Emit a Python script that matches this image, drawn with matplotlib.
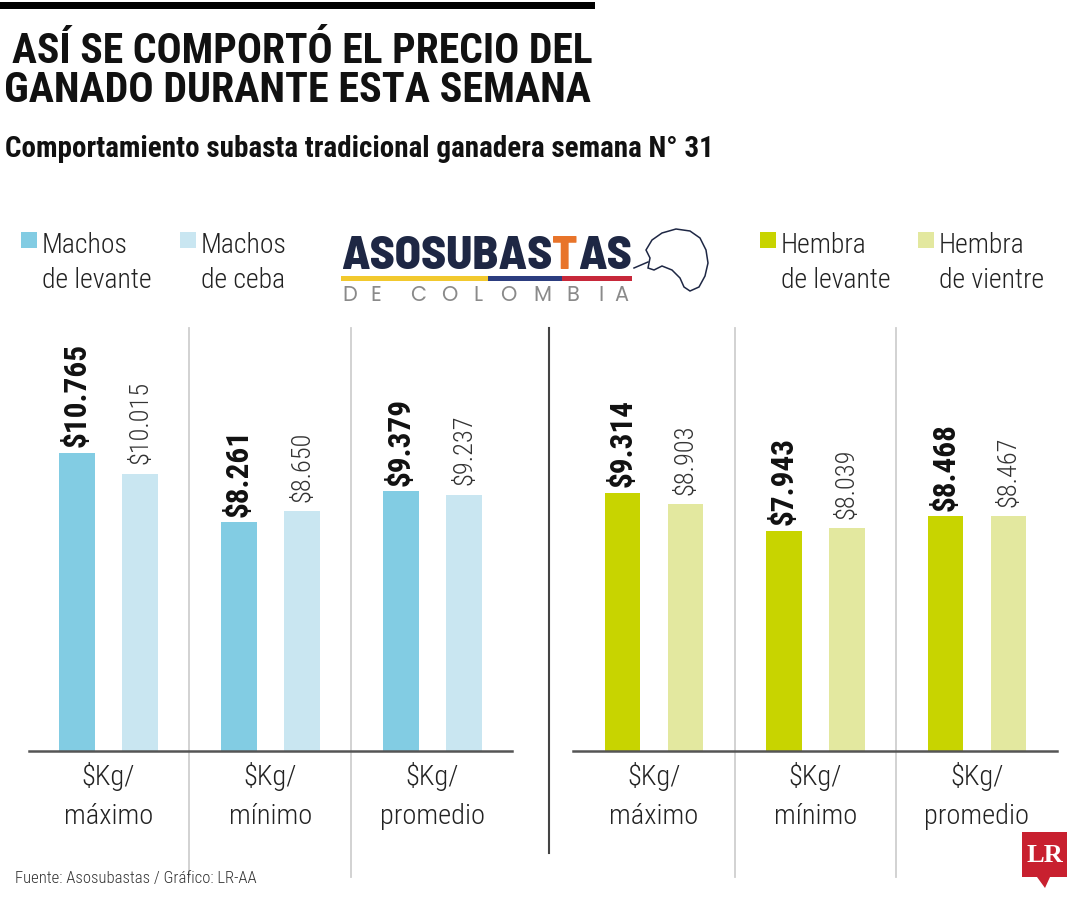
import matplotlib
matplotlib.use('Agg')
import matplotlib.pyplot as plt
from matplotlib.patches import Rectangle, Polygon
from matplotlib.lines import Line2D

plt.rcParams['text.parse_math'] = False
COND = ['Roboto Condensed', 'Asap Condensed', 'DejaVu Sans']
LOGO = ['Barlow Semi Condensed', 'Roboto Condensed', 'DejaVu Sans']
plt.rcParams['font.family'] = COND

# datos (pesos por kg)
categorias = ['$Kg/\nmáximo', '$Kg/\nmínimo', '$Kg/\npromedio']
machos_levante = [10765, 8261, 9379]
machos_ceba = [10015, 8650, 9237]
hembra_levante = [9314, 7943, 8468]
hembra_vientre = [8903, 8039, 8467]
series_izq = ['Machos\nde levante', 'Machos\nde ceba']
series_der = ['Hembra\nde levante', 'Hembra\nde vientre']

AZUL = '#82CCE3'
AZUL_CLARO = '#C9E6F1'
VERDE = '#C8D400'
VERDE_CLARO = '#E3E89F'
NAVY = '#1E2744'

W, H = 1080, 900
fig = plt.figure(figsize=(10.8, 9), dpi=100)
r = fig.canvas.get_renderer()


def fx(x):
    return x / W


def fy(y):
    return 1 - y / H


def pesos(v):
    return '$' + f'{v:,}'.replace(',', '.')


BASE = 751
TOP = 328
PX_POR_PESO = 27.7 / 1000


def panel(x0, x1, c0, paso, serie_a, serie_b, col_a, col_b):
    ax = fig.add_axes([fx(x0), fy(BASE), (x1 - x0) / W, (BASE - TOP) / H])
    xs = list(range(len(categorias)))
    off = 0.195
    ax.bar([x - off for x in xs], serie_a, width=0.218, color=col_a)
    ax.bar([x + off for x in xs], serie_b, width=0.218, color=col_b)
    for x, v in zip(xs, serie_a):
        ax.annotate(pesos(v), (x - off, v), xytext=(0, 4), textcoords='offset points',
                    rotation=90, ha='center', va='bottom', fontsize=22.5,
                    fontweight='bold', color='#111111')
    for x, v in zip(xs, serie_b):
        ax.annotate(pesos(v), (x + off, v), xytext=(0, 7), textcoords='offset points',
                    rotation=90, ha='center', va='bottom', fontsize=19,
                    fontweight='light', color='#333333')
    ax.set_xlim((x0 - c0) / paso, (x1 - c0) / paso)
    ax.set_ylim(0, (BASE - TOP) / PX_POR_PESO)
    for s in (0.5, 1.5):
        ax.axvline(s, ymin=-(877 - BASE) / (BASE - TOP), ymax=1, color='#CFCFCF',
                   lw=1.3, clip_on=False, zorder=0)
    for sp in ('top', 'left', 'right'):
        ax.spines[sp].set_visible(False)
    ax.spines['bottom'].set_color('#555555')
    ax.spines['bottom'].set_linewidth(1.8)
    ax.set_xticks(xs, categorias, fontsize=20.5, fontweight='light', color='#222222',
                  linespacing=1.55)
    ax.tick_params(axis='x', length=0, pad=8)
    ax.set_yticks([])
    ax.patch.set_alpha(0)
    return ax


panel(29, 512, 108.5, 162, machos_levante, machos_ceba, AZUL, AZUL_CLARO)
panel(573, 1057, 654, 161.5, hembra_levante, hembra_vientre, VERDE, VERDE_CLARO)

# linea divisoria central
fig.add_artist(Line2D([fx(549), fx(549)], [fy(328), fy(853)], color='#444444', lw=1.5))

# barra superior y titulos
fig.add_artist(Rectangle((0, fy(9)), fx(595), 7 / H, color='black', lw=0))
fig.text(fx(12), fy(63), 'ASÍ SE COMPORTÓ EL PRECIO DEL', fontsize=30,
         fontweight='bold', color='#111111', va='baseline')
fig.text(fx(4), fy(102), 'GANADO DURANTE ESTA SEMANA', fontsize=30.3,
         fontweight='bold', color='#111111', va='baseline')
fig.text(fx(5), fy(157), 'Comportamiento subasta tradicional ganadera semana N° 31',
         fontsize=21, fontweight='bold', color='#111111', va='baseline')

# leyendas
leyendas = [(21, series_izq[0], AZUL), (180, series_izq[1], AZUL_CLARO),
            (760, series_der[0], VERDE), (918, series_der[1], VERDE_CLARO)]
for x, txt, col in leyendas:
    fig.add_artist(Rectangle((fx(x), fy(248)), 16 / W, 16 / H, color=col, lw=0))
    l1, l2 = txt.split('\n')
    fig.text(fx(x + 21), fy(253), l1, fontsize=20, fontweight='light',
             color='#222222', va='baseline')
    fig.text(fx(x + 21), fy(288), l2, fontsize=20, fontweight='light',
             color='#222222', va='baseline')

# logo Asosubastas (tamaño ajustado al ancho del logo original)
partes = [('ASOSUBAS', NAVY), ('T', '#E8742A'), ('AS', NAVY)]
prueba = fig.text(0, 0, 'ASOSUBASTAS', fontsize=20, fontweight=800, family=LOGO)
tam = 20 * 291 / prueba.get_window_extent(r).width
prueba.remove()
xp = fx(341)
for parte, col in partes:
    t = fig.text(xp, fy(269), parte, fontsize=tam, fontweight=800, color=col,
                 va='baseline', family=LOGO)
    xp += t.get_window_extent(r).width / W
for x0, x1, col in [(341, 488, '#F2C92E'), (488, 562, '#2C3D7F'), (562, 632, '#C7283A')]:
    fig.add_artist(Rectangle((fx(x0), fy(281)), (x1 - x0) / W, 5 / H, color=col, lw=0))
letras = [('D', 342), ('E', 370), ('C', 410), ('O', 441), ('L', 473), ('O', 500),
          ('M', 533), ('B', 566), ('I', 598), ('A', 614)]
for ch, x in letras:
    fig.text(fx(x), fy(301), ch, fontsize=15, color='#8A8A8A', va='baseline',
             family=['Poppins', 'DejaVu Sans'])
cabeza = [(652, 240), (662, 233), (676, 229), (690, 231), (700, 238), (706, 250),
          (708, 263), (705, 276), (699, 287), (690, 291), (684, 287), (680, 278),
          (672, 270), (662, 266), (654, 270), (648, 268), (650, 258), (646, 250)]
fig.add_artist(Polygon([(fx(x), fy(y)) for x, y in cabeza], closed=True, fill=False,
                       ec=NAVY, lw=1.1))
fig.add_artist(Line2D([fx(634), fx(648)], [fy(268), fy(262)], color=NAVY, lw=1.1))

# fuente y logo LR
fig.text(fx(15), fy(883), 'Fuente: Asosubastas / Gráfico: LR-AA', fontsize=12,
         fontweight='light', color='#333333', va='baseline')
pts = [(1022, 832), (1067, 832), (1067, 877), (1050, 877), (1045, 888),
       (1037, 877), (1022, 877)]
fig.add_artist(Polygon([(fx(x), fy(y)) for x, y in pts], closed=True,
                       color='#C8202F', lw=0))
fig.text(fx(1044.5), fy(855), 'LR', fontsize=19, fontweight='bold', color='white',
         ha='center', va='center', family=['Liberation Serif', 'DejaVu Serif'])

fig.savefig('out.png', dpi=100)
